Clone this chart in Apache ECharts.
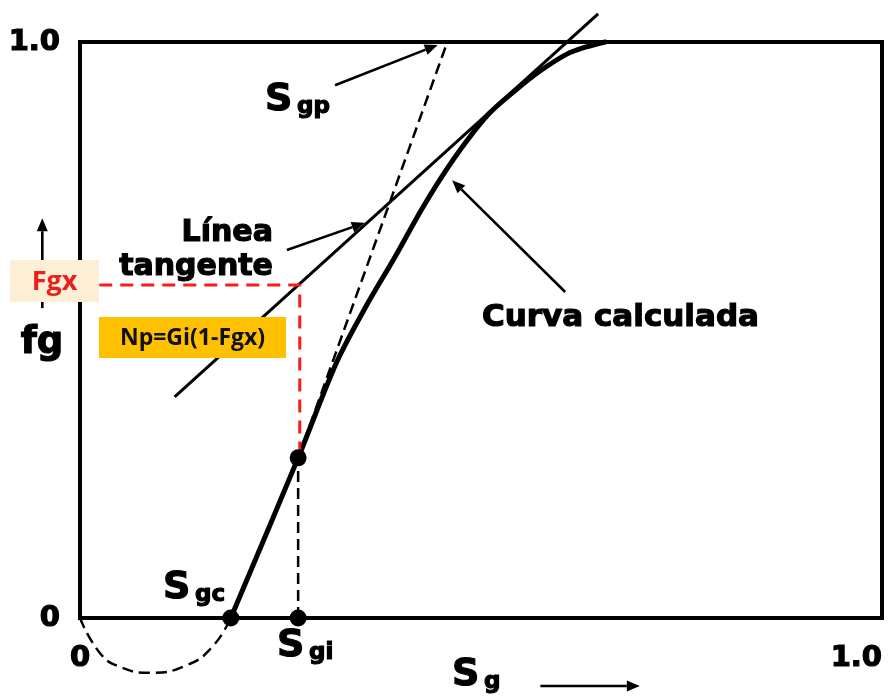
<!DOCTYPE html>
<html>
<head>
<meta charset="utf-8">
<script src="https://cdn.jsdelivr.net/npm/echarts@6/dist/echarts.min.js"></script>
<style>
  html, body { margin: 0; padding: 0; background: #ffffff; }
  #chart { width: 891px; height: 697px; }
</style>
</head>
<body>
<div id="chart"></div>
<script>
// Fractional flow curve fg(Sg)
const curveSg = [0.188, 0.272, 0.320, 0.357, 0.392, 0.425, 0.451, 0.481, 0.511, 0.542, 0.574, 0.607, 0.630, 0.655];
const curveFg = [0.000, 0.278, 0.444, 0.542, 0.625, 0.707, 0.766, 0.826, 0.877, 0.915, 0.950, 0.979, 0.991, 1.000];

// Tangent line (solid)
const tangentSg = [0.118, 0.646];
const tangentFg = [0.384, 1.049];

// Dashed line from the Sgi point up to fg = 1 (Sgp)
const sgpSg = [0.272, 0.458];
const sgpFg = [0.278, 1.000];

// Dashed lobe under the axis between 0 and Sgc
const lobeSg = [0.000, 0.025, 0.050, 0.087, 0.133, 0.165, 0.188];
const lobeFg = [0.000, -0.061, -0.085, -0.095, -0.082, -0.050, 0.000];

// Characteristic saturations and flow fractions
const Sgc = 0.188;
const Sgi = 0.272;
const fgAtSgi = 0.278;
const Fgx = 0.578;

// Axis tick labels
const tickValues = [0, 1];
const tickLabels = ['0', '1.0'];

const zip = (a, b) => a.map((v, i) => [v, b[i]]);
const FONT = 'DejaVu Sans';

const chart = echarts.init(document.getElementById('chart'), null, { renderer: 'canvas' });

const tickLabelStyle = {
  color: '#000', fontFamily: FONT, fontWeight: 'bold', fontSize: 29,
  textBorderColor: '#000', textBorderWidth: 1.2,
  formatter: v => tickLabels[tickValues.indexOf(v)]
};

const option = {
  backgroundColor: '#ffffff',
  animation: false,
  grid: {
    left: 80, right: 9, top: 42, bottom: 79,
    show: true, borderColor: '#000', borderWidth: 4, backgroundColor: 'transparent'
  },
  xAxis: {
    type: 'value', min: 0, max: 1, interval: 1,
    axisLine: { show: false }, axisTick: { show: false }, splitLine: { show: false },
    axisLabel: Object.assign({ margin: 26, alignMaxLabel: 'right' }, tickLabelStyle)
  },
  yAxis: {
    type: 'value', min: 0, max: 1, interval: 1,
    axisLine: { show: false }, axisTick: { show: false }, splitLine: { show: false },
    axisLabel: Object.assign({ margin: 20 }, tickLabelStyle)
  },
  series: [
    {
      name: 'lobe', type: 'line', clip: false, smooth: true, symbol: 'none',
      data: zip(lobeSg, lobeFg),
      lineStyle: { color: '#000', width: 2.4, type: [11, 6] }
    },
    {
      name: 'Sgp', type: 'line', clip: false, symbol: 'none',
      data: zip(sgpSg, sgpFg),
      lineStyle: { color: '#000', width: 2.5, type: [11, 6] }
    },
    {
      name: 'Sgi drop', type: 'line', clip: false, symbol: 'none',
      data: [[Sgi, 0], [Sgi, fgAtSgi]],
      lineStyle: { color: '#000', width: 2.5, type: [11, 6] }
    },
    {
      name: 'Línea tangente', type: 'line', clip: false, symbol: 'none',
      data: zip(tangentSg, tangentFg),
      lineStyle: { color: '#000', width: 3 }
    },
    {
      name: 'Curva calculada', type: 'line', clip: false, smooth: 0.3, symbol: 'none',
      data: zip(curveSg, curveFg),
      lineStyle: { color: '#000', width: 5, cap: 'round', join: 'round' }
    },
    {
      name: 'Fgx', type: 'line', clip: false, symbol: 'none', z: 4,
      data: [[0.024, Fgx], [0.274, Fgx], [0.274, fgAtSgi]],
      lineStyle: { color: '#ff1a1a', width: 3, type: [13, 8] }
    },
    {
      name: 'points', type: 'scatter', clip: false, symbolSize: 17, z: 5,
      data: [[Sgc, 0], [Sgi, 0], [Sgi, fgAtSgi]],
      itemStyle: { color: '#000', opacity: 1 }
    }
  ]
};
chart.setOption(option);

// Annotations anchored in data units
const P = (sg, fg) => chart.convertToPixel({ gridIndex: 0 }, [sg, fg]);

function arrow(from, to) {
  const a = P(from[0], from[1]);
  const b = P(to[0], to[1]);
  const ang = Math.atan2(b[1] - a[1], b[0] - a[0]);
  const L = 13, W = 5.5;
  const bx = b[0] - L * Math.cos(ang), by = b[1] - L * Math.sin(ang);
  const nx = -Math.sin(ang) * W, ny = Math.cos(ang) * W;
  return [
    { type: 'line', z: 20, shape: { x1: a[0], y1: a[1], x2: bx, y2: by },
      style: { stroke: '#000', lineWidth: 2.6 } },
    { type: 'polygon', z: 20, shape: { points: [[b[0], b[1]], [bx + nx, by + ny], [bx - nx, by - ny]] },
      style: { fill: '#000' } }
  ];
}

function boldStyle(str, size, align) {
  return { text: str, fill: '#000', stroke: '#000', lineWidth: 1.2,
    font: 'bold ' + size + 'px "' + FONT + '"', align: align, verticalAlign: 'middle' };
}

function text(str, anchor, size, align) {
  const p = P(anchor[0], anchor[1]);
  return { type: 'text', z: 30, x: p[0], y: p[1] - 0.30 * size, style: boldStyle(str, size, align) };
}

// "S" with a smaller suffix on a shared baseline
function sLabel(sub, anchor) {
  const p = P(anchor[0], anchor[1]);
  return [
    { type: 'text', z: 30, x: p[0], y: p[1] - 0.30 * 38, style: boldStyle('S', 38, 'left') },
    { type: 'text', z: 30, x: p[0] + 32, y: p[1] - 0.30 * 23 + 2, style: boldStyle(sub, 23, 'left') }
  ];
}

function box(tl, br, fill, str, color, size, weight) {
  const a = P(tl[0], tl[1]);
  const b = P(br[0], br[1]);
  return [
    { type: 'rect', z: 25, shape: { x: a[0], y: a[1], width: b[0] - a[0], height: b[1] - a[1] },
      style: { fill: fill } },
    { type: 'text', z: 26, x: (a[0] + b[0]) / 2, y: (a[1] + b[1]) / 2 + 1,
      style: { text: str, fill: color, font: weight + ' ' + size + 'px "Open Sans"', align: 'center', verticalAlign: 'middle' } }
  ];
}

const graphics = [].concat(
  arrow([-0.047, 0.538], [-0.047, 0.694]),          // fg axis arrow
  arrow([0.574, -0.118], [0.698, -0.118]),          // Sg axis arrow
  arrow([0.318, 0.925], [0.446, 0.995]),            // Sgp pointer
  arrow([0.258, 0.639], [0.355, 0.686]),            // tangent pointer
  arrow([0.605, 0.566], [0.464, 0.760]),            // curve pointer
  sLabel('gp', [0.2307, 0.8785]),
  sLabel('gc', [0.1035, 0.0313]),
  sLabel('gi', [0.2456, -0.0694]),
  sLabel('g', [0.4638, -0.1198]),
  [text('Línea', [0.2406, 0.6528], 30, 'right')],
  [text('tangente', [0.2406, 0.5938], 30, 'right')],
  [text('Curva calculada', [0.5012, 0.5052], 31, 'left')],
  [text('fg', [-0.0474, 0.4583], 37, 'center')],
  box([-0.0873, 0.6215], [0.0237, 0.5486], '#fdefd6', 'Fgx', '#e8201e', 27, 'bold'),
  box([0.0237, 0.5226], [0.2569, 0.4514], '#ffc000', 'Np=Gi(1-Fgx)', '#111', 23, 'bold')
);

chart.setOption({ graphic: { elements: graphics } });
</script>
</body>
</html>
